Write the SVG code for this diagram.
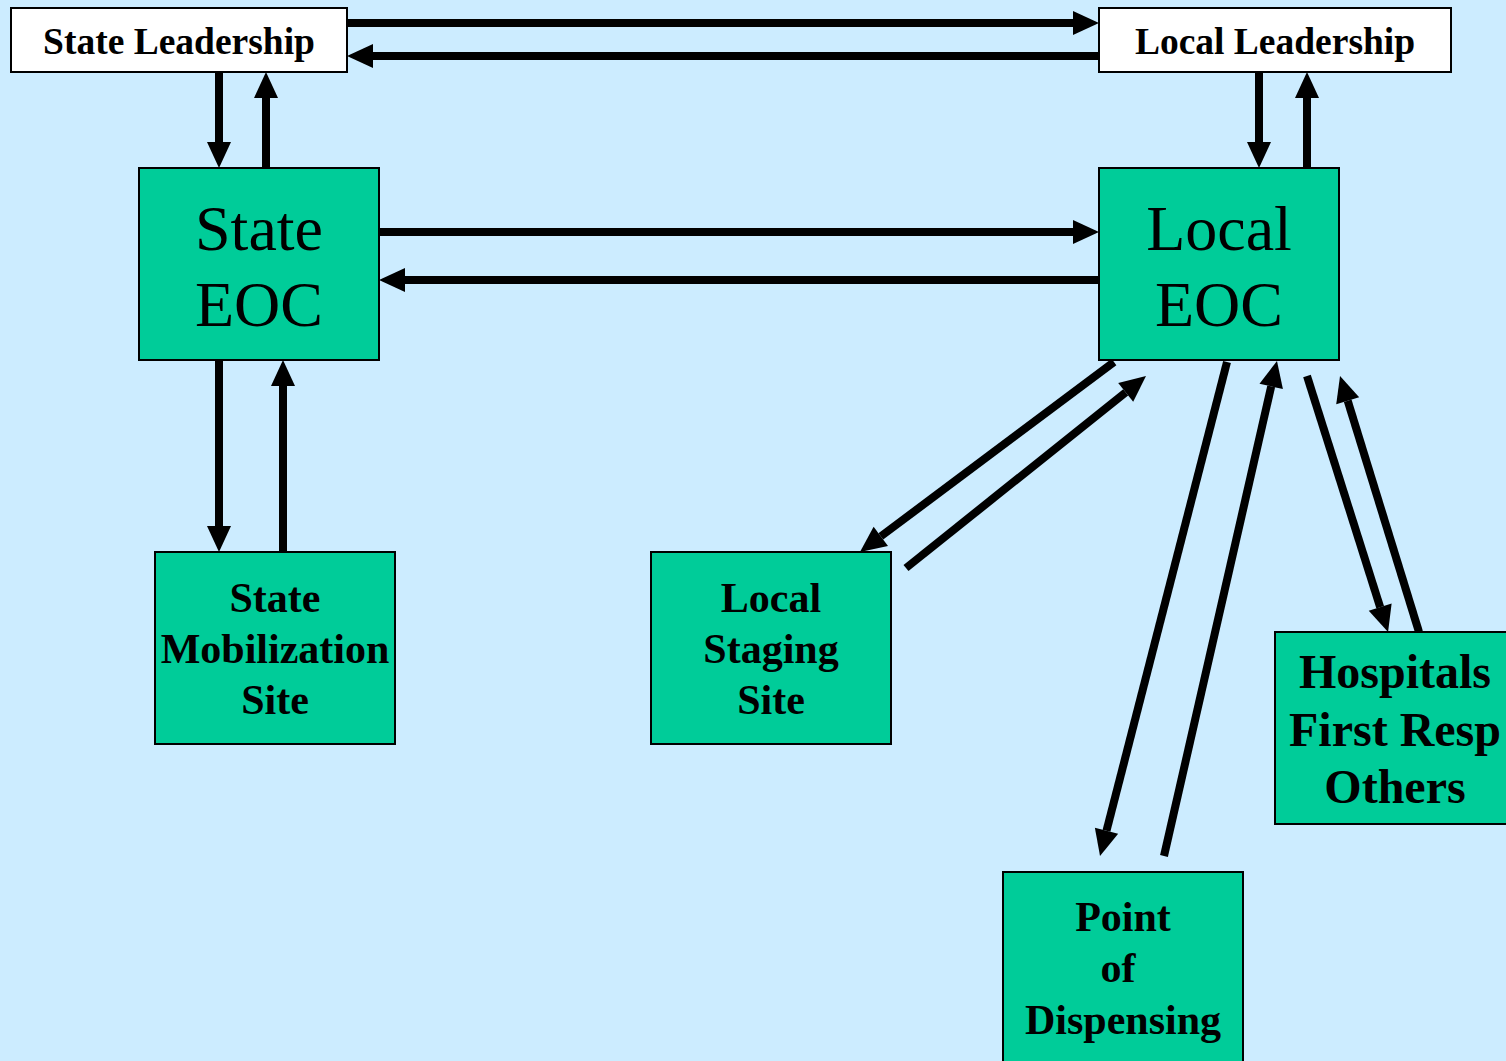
<svg xmlns="http://www.w3.org/2000/svg" width="1506" height="1061" viewBox="0 0 1506 1061">
<defs>
<style>
.bg{fill:#CCECFF}
.wbox{fill:#FFFFFF;stroke:#000;stroke-width:2}
.gbox{fill:#00CC99;stroke:#000;stroke-width:2}
.t{font-family:"Liberation Serif","Times New Roman",serif;fill:#000;text-anchor:middle}
.b{font-weight:bold}
.c{stroke:#000;stroke-width:8;fill:none;marker-end:url(#ah)}
</style>
<marker id="ah" markerUnits="userSpaceOnUse" markerWidth="26" markerHeight="26" viewBox="0 0 26 26" refX="0" refY="13" orient="auto" overflow="visible">
<path d="M0,1 L26,13 L0,25 Z" fill="#000"/>
</marker>
</defs>
<rect class="bg" x="0" y="0" width="1506" height="1061"/>
<g id="connectors">
<line class="c" x1="347" y1="23" x2="1073" y2="23"/>
<line class="c" x1="1099" y1="56" x2="373" y2="56"/>
<line class="c" x1="219" y1="72" x2="219" y2="142"/>
<line class="c" x1="266" y1="168" x2="266" y2="98"/>
<line class="c" x1="1259" y1="72" x2="1259" y2="142"/>
<line class="c" x1="1307" y1="168" x2="1307" y2="98"/>
<line class="c" x1="379" y1="232" x2="1073" y2="232"/>
<line class="c" x1="1099" y1="280" x2="405" y2="280"/>
<line class="c" x1="219" y1="360" x2="219" y2="526"/>
<line class="c" x1="283" y1="552" x2="283" y2="386"/>
<line class="c" x1="1114" y1="362" x2="880.8" y2="536.4"/>
<line class="c" x1="906" y1="568" x2="1125.7" y2="392.3"/>
<line class="c" x1="1227" y1="362" x2="1106.5" y2="830.8"/>
<line class="c" x1="1164" y1="856" x2="1271.2" y2="386.4"/>
<line class="c" x1="1307" y1="376" x2="1380.2" y2="607.2"/>
<line class="c" x1="1419" y1="632" x2="1347.7" y2="400.8"/>
</g>
<g id="state-leadership">
<rect class="wbox" x="11" y="8" width="336" height="64"/>
<text class="t b" x="179" y="54" font-size="37.5">State Leadership</text>
</g>
<g id="local-leadership">
<rect class="wbox" x="1099" y="8" width="352" height="64"/>
<text class="t b" x="1275" y="54" font-size="37.5">Local Leadership</text>
</g>
<g id="state-eoc">
<rect class="gbox" x="139" y="168" width="240" height="192"/>
<text class="t" x="259" y="250" font-size="64">State</text>
<text class="t" x="259" y="326" font-size="64">EOC</text>
</g>
<g id="local-eoc">
<rect class="gbox" x="1099" y="168" width="240" height="192"/>
<text class="t" x="1219" y="250" font-size="64">Local</text>
<text class="t" x="1219" y="326" font-size="64">EOC</text>
</g>
<g id="state-mobilization-site">
<rect class="gbox" x="155" y="552" width="240" height="192"/>
<text class="t b" x="275" y="612" font-size="42">State</text>
<text class="t b" x="275" y="663" font-size="42">Mobilization</text>
<text class="t b" x="275" y="714" font-size="42">Site</text>
</g>
<g id="local-staging-site">
<rect class="gbox" x="651" y="552" width="240" height="192"/>
<text class="t b" x="771" y="612" font-size="42">Local</text>
<text class="t b" x="771" y="663" font-size="42">Staging</text>
<text class="t b" x="771" y="714" font-size="42">Site</text>
</g>
<g id="hospitals">
<rect class="gbox" x="1275" y="632" width="240" height="192"/>
<text class="t b" x="1395" y="688" font-size="48">Hospitals</text>
<text class="t b" x="1395" y="746" font-size="48">First Resp</text>
<text class="t b" x="1395" y="803" font-size="48">Others</text>
</g>
<g id="point-of-dispensing">
<rect class="gbox" x="1003" y="872" width="240" height="192"/>
<text class="t b" x="1123" y="931" font-size="42">Point</text>
<text class="t b" x="1118" y="982" font-size="42">of</text>
<text class="t b" x="1123" y="1034" font-size="42">Dispensing</text>
</g>
</svg>
